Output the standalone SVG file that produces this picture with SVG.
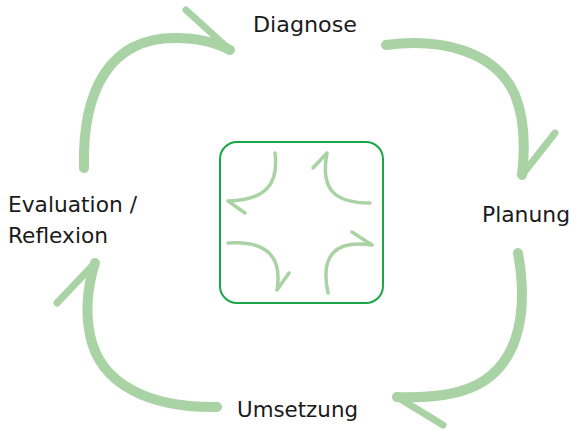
<svg xmlns="http://www.w3.org/2000/svg" width="571" height="430" viewBox="0 0 571 430">
<style>
.big{fill:none;stroke:#a9d3a4;stroke-width:10;stroke-linecap:round;stroke-linejoin:round}
.barb{fill:none;stroke:#a9d3a4;stroke-width:7;stroke-linecap:round}
.small{fill:none;stroke:#a9d3a4;stroke-width:3.5;stroke-linecap:round}
.lbl{font-family:"DejaVu Sans","Liberation Sans",sans-serif;font-size:21px;fill:#1a1a1a}
</style>
<rect width="571" height="430" fill="#ffffff"/>
<g id="connectors">
  <g id="arrow-diagnose">
    <path class="big" d="M84 168 C82 90 110 38 175 38 C195 38 215 42 230 50"/>
    <path class="barb" d="M230 50 L186 10"/>
  </g>
  <g id="arrow-planung">
    <path class="big" d="M386 45 C440 38 495 50 515 95 C525 120 525 150 522 175"/>
    <path class="barb" d="M522 175 L555 133"/>
  </g>
  <g id="arrow-umsetzung">
    <path class="big" d="M518 253 C530 320 515 370 470 388 C450 396 425 398 397 397"/>
    <path class="barb" d="M397 397 L443 425"/>
  </g>
  <g id="arrow-evaluation">
    <path class="big" d="M217 407 C150 408 100 385 90 335 C85 310 88 285 95 263"/>
    <path class="barb" d="M95 263 L57 303"/>
  </g>
</g>
<g id="center">
  <rect x="220" y="142" width="163" height="161" rx="17" fill="none" stroke="#1aa648" stroke-width="2"/>
  <path class="small" d="M275 153 C279 185 265 200 228 201 M228 201 L245 213"/>
  <path class="small" d="M370 203 C335 203 320 190 327 153 M327 153 L313 168"/>
  <path class="small" d="M228 243 C270 240 282 260 277 290 M277 290 L289 273"/>
  <path class="small" d="M328 293 C320 255 335 240 372 245 M372 245 L352 232"/>
</g>
<g id="node-diagnose"><text class="lbl" x="253" y="32" textLength="104" lengthAdjust="spacingAndGlyphs">Diagnose</text></g>
<g id="node-planung"><text class="lbl" x="482" y="222" textLength="88" lengthAdjust="spacingAndGlyphs">Planung</text></g>
<g id="node-umsetzung"><text class="lbl" x="237" y="417" textLength="121" lengthAdjust="spacingAndGlyphs">Umsetzung</text></g>
<g id="node-evaluation">
  <text class="lbl" x="8" y="212" textLength="129" lengthAdjust="spacingAndGlyphs">Evaluation /</text>
  <text class="lbl" x="8" y="243" textLength="100" lengthAdjust="spacingAndGlyphs">Reflexion</text>
</g>
</svg>
